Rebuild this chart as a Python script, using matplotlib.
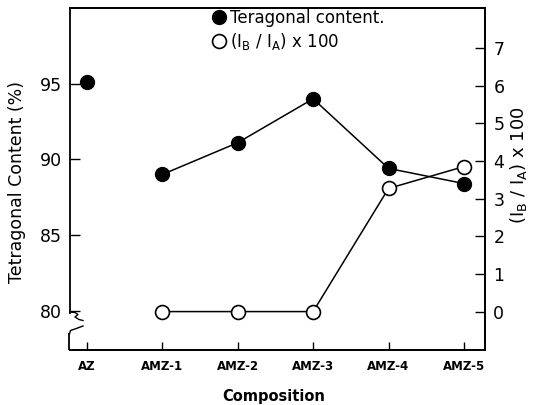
import matplotlib as mpl
mpl.use('Agg')
import matplotlib.pyplot as plt
from matplotlib.lines import Line2D
import numpy as np

compositions = ['AZ', 'AMZ-1', 'AMZ-2', 'AMZ-3', 'AMZ-4', 'AMZ-5']
tetragonal = [95.1, 89.0, 91.1, 94.0, 89.4, 88.4]          # %
ratio_x100 = [np.nan, 0.0, 0.0, 0.0, 3.27, 3.85]            # (IB/IA) x 100

plt.rcParams['font.family'] = 'DejaVu Sans'

fig = plt.figure(figsize=(5.33, 4.05), dpi=100)
ax = fig.add_axes([0.1313, 0.1358, 0.7787, 0.8444])
ax2 = ax.twinx()

x = np.arange(len(compositions))

# tetragonal content: AZ stands alone, the AMZ series is joined
ax.plot(x[:1], tetragonal[:1], 'o', color='black', markersize=10, zorder=3)
ax.plot(x[1:], tetragonal[1:], '-o', color='black', linewidth=1.1,
        markersize=10, zorder=3)

# peak ratio on the right axis, open circles
ax2.plot(x, ratio_x100, '-o', color='black', linewidth=1.1, markersize=10,
         markerfacecolor='white', markeredgecolor='black', markeredgewidth=1.2,
         zorder=3)

ax.set_xlim(-0.225, 5.28)
ax.set_ylim(77.4, 100.0)
ax2.set_ylim(-1.02, 8.06)

ax.set_yticks([80, 85, 90, 95])
ax2.set_yticks(range(0, 8))
ax.set_xticks(x)
ax.set_xticklabels(compositions, fontweight='bold', fontsize=8.5)

ax.tick_params(axis='y', direction='in', length=7, width=1, labelsize=12.5, pad=6)
ax2.tick_params(axis='y', direction='in', length=7, width=1, labelsize=12.5, pad=6)
ax.tick_params(axis='x', direction='in', length=6, width=1, pad=7)
ax.xaxis.get_major_ticks()[0].tick1line.set_linestyle(':')

for a in (ax, ax2):
    for s in a.spines.values():
        s.set_linewidth(1.3)

# broken left axis below 80, drawn in axes fractions of a 415 x 342 px frame
ax.spines['left'].set_bounds(79.85, 100.0)
ax2.spines['left'].set_visible(False)
def px(xs, ys):
    return (np.array(xs) - 70) / 415.0, (350 - np.array(ys)) / 342.0
bx, by = px([70, 75, 78, 75, 79, 83], [312, 312.5, 314.5, 317, 319.5, 320.5])
ax.plot(bx, by, color='black', linewidth=1.0, transform=ax.transAxes, clip_on=False)
bx, by = px([69.5, 70.5, 75, 83], [334, 330.5, 329, 326])
ax.plot(bx, by, color='black', linewidth=1.0, transform=ax.transAxes, clip_on=False)
bx, by = px([69.5, 69.5], [333, 350])
ax.plot(bx, by, color='black', linewidth=1.3, transform=ax.transAxes,
        clip_on=False, solid_capstyle='butt')

ax.set_ylabel('Tetragonal Content (%)', fontsize=12.5)
ax.yaxis.set_label_coords(-0.105, 0.49)
ax2.set_ylabel(r'(I$_{\mathregular{B}}$ / I$_{\mathregular{A}}$) x 100', fontsize=13)
ax2.yaxis.set_label_coords(1.055, 0.54)
ax.set_xlabel('Composition', fontsize=10.5, fontweight='bold')
ax.xaxis.set_label_coords(0.49, -0.115)

handles = [
    Line2D([], [], marker='o', linestyle='none', color='black', markersize=10),
    Line2D([], [], marker='o', linestyle='none', markerfacecolor='white',
           markeredgecolor='black', markeredgewidth=1.2, markersize=10),
]
ax.legend(handles, ['Teragonal content.', r'(I$_{\mathregular{B}}$ / I$_{\mathregular{A}}$) x 100'],
          loc='upper left', bbox_to_anchor=(0.33, 1.012), frameon=False,
          fontsize=12, handlelength=0.8, handletextpad=0.3,
          borderaxespad=0.2, borderpad=0.1, labelspacing=0.25)

fig.savefig('out.png', dpi=100)
